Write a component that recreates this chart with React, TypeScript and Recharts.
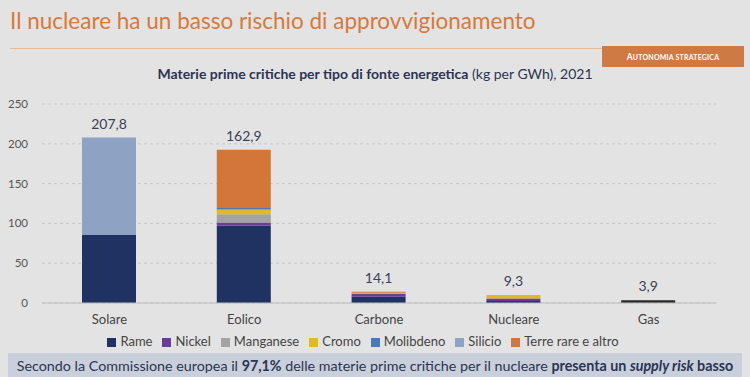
import React from "react";
import { BarChart, Bar, XAxis, YAxis, CartesianGrid, Legend, LabelList, Cell } from "recharts";

const CATEGORIES = ["Solare", "Eolico", "Carbone", "Nucleare", "Gas"];
const RAME = [85.5, 97.5, 7.7, 2.5, 3.4];
const NICKEL = [0, 3.5, 3.6, 3, 0];
const MANGANESE = [0, 10.5, 0, 0, 0];
const CROMO = [0, 6, 1.6, 4.5, 0];
const MOLIBDENO = [0, 2, 0, 0, 0];
const SILICIO = [122.3, 0, 0, 0, 0];
const TERRE_RARE = [0, 73, 1.2, 0, 0];
const TOTAL_LABELS = ["207,8", "162,9", "14,1", "9,3", "3,9"];
const Y_TICKS = [0, 50, 100, 150, 200, 250];

const SERIES = [
  { key: "Rame", values: RAME, color: "#1f3262" },
  { key: "Nickel", values: NICKEL, color: "#6b3b9c" },
  { key: "Manganese", values: MANGANESE, color: "#a3a3a3" },
  { key: "Cromo", values: CROMO, color: "#e3b823" },
  { key: "Molibdeno", values: MOLIBDENO, color: "#4b77bf" },
  { key: "Silicio", values: SILICIO, color: "#8ea2c3" },
  { key: "Terre rare e altro", values: TERRE_RARE, color: "#d2763a" },
];
const ORDER = SERIES.map((s) => s.key);

const data = CATEGORIES.map((name, i) => {
  const row: Record<string, string | number> = { name };
  SERIES.forEach((s) => (row[s.key] = s.values[i]));
  return row;
});

const FONT = "Lato, 'Noto Sans', sans-serif";
const NAVY = "#2b3452";

// label sits on the Rame segment (never zero); stack top comes from its own px/unit
const TopLabel = (props: any) => {
  const { x, y, width, height, index } = props;
  const total = SERIES.reduce((acc, s) => acc + s.values[index], 0);
  const pxPerUnit = height / RAME[index];
  const top = y + height - total * pxPerUnit;
  return (
    <text x={x + width / 2} y={top - 9} textAnchor="middle" fill="#3b4159" fontSize={14} fontFamily={FONT}>
      {TOTAL_LABELS[index]}
    </text>
  );
};

export default function App() {
  return (
    <div style={{ position: "fixed", left: 0, top: 0, width: 750, height: 377, background: "#e3e3e3", fontFamily: FONT, overflow: "hidden" }}>
      <div style={{ position: "absolute", left: 10, top: 7, fontSize: 22.5, color: "#d8793b", whiteSpace: "nowrap" }}>
        Il nucleare ha un basso rischio di approvvigionamento
      </div>
      <div style={{ position: "absolute", left: 10, top: 48, width: 592, height: 1, background: "#e9b993" }} />
      <div
        style={{
          position: "absolute", left: 602, top: 46, width: 142, height: 21, background: "#cf7a45",
          color: "#fff", fontSize: 8.5, fontWeight: 700, display: "flex", alignItems: "center", justifyContent: "center",
          letterSpacing: 0.2,
        }}
      >
        A<span style={{ fontSize: 7 }}>UTONOMIA STRATEGICA</span>
      </div>
      <div style={{ position: "absolute", left: 0, width: 750, top: 65, textAlign: "center", fontSize: 14, color: NAVY, whiteSpace: "nowrap" }}>
        <b>Materie prime critiche per tipo di fonte energetica</b> (kg per GWh), 2021
      </div>
      <div style={{ position: "absolute", left: 0, top: 0 }}>
        <BarChart width={750} height={352} data={data} margin={{ top: 104, right: 34, left: 0, bottom: 3 }}>
          <CartesianGrid vertical={false} stroke="#c6c6c6" strokeDasharray="3 3" />
          <XAxis
            dataKey="name"
            tickLine={false}
            axisLine={{ stroke: "#bdbdbd" }}
            tick={{ fill: "#444", fontSize: 13, fontFamily: FONT }}
            tickMargin={6}
          />
          <YAxis
            width={42}
            domain={[0, 250]}
            ticks={Y_TICKS}
            tickLine={false}
            axisLine={false}
            tick={{ fill: "#555", fontSize: 11.5, fontFamily: FONT }}
            tickMargin={8}
          />
          <Legend
            iconType="square"
            iconSize={9}
            itemSorter={(item: any) => ORDER.indexOf(item.value)}
            wrapperStyle={{ fontSize: 13, fontFamily: FONT, color: "#444", paddingLeft: 10 }}
            formatter={(v: string) => <span style={{ color: "#444" }}>{v}</span>}
          />
          {SERIES.map((s, si) => (
            <Bar key={s.key} dataKey={s.key} stackId="a" fill={s.color} barSize={54} isAnimationActive={false}>
              {si === 0 && CATEGORIES.map((c) => <Cell key={c} fill={c === "Gas" ? "#282828" : s.color} />)}
              {si === 0 && <LabelList dataKey="Rame" content={TopLabel} />}
            </Bar>
          ))}
        </BarChart>
      </div>
      <div
        style={{
          position: "absolute", left: 8, top: 353, width: 734, height: 24, background: "#c9d0dc", color: NAVY,
          fontSize: 14.3, display: "flex", alignItems: "center", justifyContent: "center", whiteSpace: "nowrap",
        }}
      >
        <span>
          Secondo la Commissione europea il <b>97,1%</b> delle materie prime critiche per il nucleare{" "}
          <b>presenta un <i>supply risk</i> basso</b>
        </span>
      </div>
    </div>
  );
}
